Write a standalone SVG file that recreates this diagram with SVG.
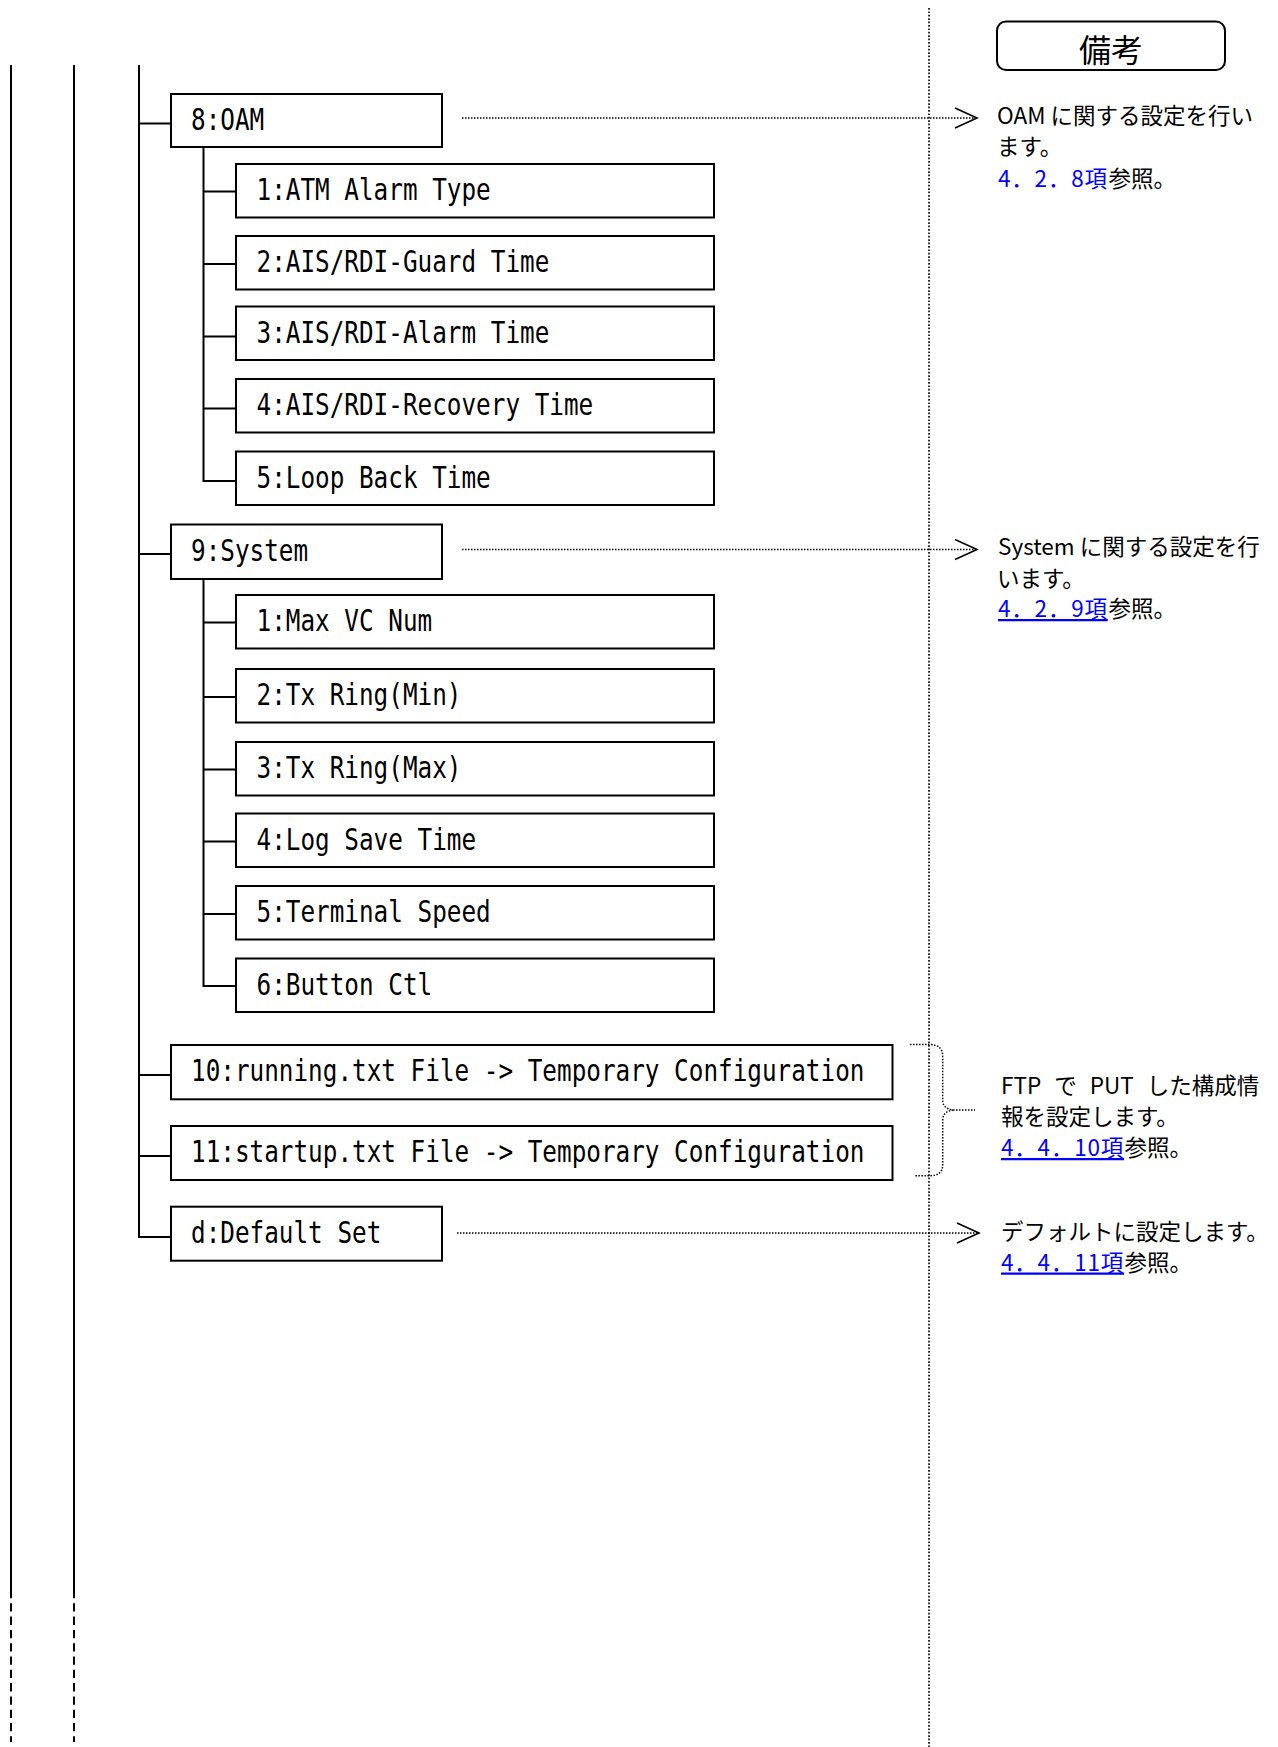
<svg xmlns="http://www.w3.org/2000/svg" width="1278" height="1747" viewBox="0 0 1278 1747">
<style>
.box{fill:#fff;stroke:#000;stroke-width:2}
.lbl{font-family:"DejaVu Sans Mono","Liberation Mono",monospace;font-size:24.33px;fill:#000}
.ln{stroke:#000;stroke-width:2;fill:none}
.dash{stroke:#000;stroke-width:2;fill:none;stroke-dasharray:8.3 5}
.dot{stroke:#000;stroke-width:1.5;fill:none;stroke-dasharray:1.5 1.5}
.vdot{stroke:#000;stroke-width:1.6;fill:none;stroke-dasharray:1.7 1.7}
.note{font-family:"Noto Sans CJK JP","Noto Sans",sans-serif;font-size:22.5px;fill:#000}
.lnk{fill:#0000ff;letter-spacing:0.8px}
.ul{fill:#0000ff;text-decoration:underline;letter-spacing:0.8px}
.hdr{font-family:"Noto Sans CJK JP",sans-serif;font-size:32px;fill:#000}
</style>
<defs>
<marker id="chev" markerUnits="userSpaceOnUse" markerWidth="26" markerHeight="24" refX="23" refY="11" orient="auto" viewBox="0 0 26 24">
<path d="M1,1 L23,11 L1,21" fill="none" stroke="#000" stroke-width="1.6" stroke-dasharray="none"/>
</marker>
</defs>
<rect width="1278" height="1747" fill="#fff"/>

<g id="connectors">
<line class="vdot" x1="929" y1="8" x2="929" y2="1747"/>
<line class="ln" x1="11" y1="65" x2="11" y2="1590"/>
<line class="dash" x1="11" y1="1590" x2="11" y2="1742"/>
<line class="ln" x1="74" y1="65" x2="74" y2="1590"/>
<line class="dash" x1="74" y1="1590" x2="74" y2="1742"/>
<line class="ln" x1="139" y1="65" x2="139" y2="1238"/>
<line class="ln" x1="139" y1="123.5" x2="171" y2="123.5"/>
<line class="ln" x1="139" y1="554" x2="171" y2="554"/>
<line class="ln" x1="139" y1="1075" x2="171" y2="1075"/>
<line class="ln" x1="139" y1="1156" x2="171" y2="1156"/>
<line class="ln" x1="139" y1="1237" x2="171" y2="1237"/>
<line class="ln" x1="203.5" y1="147" x2="203.5" y2="482"/>
<line class="ln" x1="203.5" y1="191.5" x2="236" y2="191.5"/>
<line class="ln" x1="203.5" y1="264" x2="236" y2="264"/>
<line class="ln" x1="203.5" y1="336.5" x2="236" y2="336.5"/>
<line class="ln" x1="203.5" y1="408.5" x2="236" y2="408.5"/>
<line class="ln" x1="203.5" y1="481" x2="236" y2="481"/>
<line class="ln" x1="203.5" y1="579" x2="203.5" y2="987"/>
<line class="ln" x1="203.5" y1="622.5" x2="236" y2="622.5"/>
<line class="ln" x1="203.5" y1="697" x2="236" y2="697"/>
<line class="ln" x1="203.5" y1="769.5" x2="236" y2="769.5"/>
<line class="ln" x1="203.5" y1="841.5" x2="236" y2="841.5"/>
<line class="ln" x1="203.5" y1="914" x2="236" y2="914"/>
<line class="ln" x1="203.5" y1="986" x2="236" y2="986"/>
<line class="dot" x1="462" y1="118" x2="977" y2="118" marker-end="url(#chev)"/>
<line class="dot" x1="462" y1="549.5" x2="977" y2="549.5" marker-end="url(#chev)"/>
<line class="dot" x1="457" y1="1233" x2="979" y2="1233" marker-end="url(#chev)"/>
<path class="dot" d="M910,1044.5 L930,1044.5 Q942.7,1045 942.7,1056 L942.7,1100 Q942.7,1108.5 953,1110 Q942.7,1111.5 942.7,1120 L942.7,1165 Q942.7,1175.5 930,1175.7 L915,1175.7"/>
<line class="dot" x1="953" y1="1110" x2="975" y2="1110"/>
</g>

<g id="header-remarks">
<rect x="997" y="21.5" width="228" height="48.5" rx="9" ry="9" fill="#fff" stroke="#000" stroke-width="2"/>
<text class="hdr" x="1111" y="62" text-anchor="middle">備考</text>
</g>

<g id="n8">
<rect class="box" x="171" y="94" width="271" height="53"/>
<text class="lbl" transform="translate(191,130) scale(1,1.233)">8:OAM</text>
</g>
<g id="n8-1">
<rect class="box" x="236" y="164" width="478" height="53.5"/>
<text class="lbl" transform="translate(256.5,200) scale(1,1.233)">1:ATM Alarm Type</text>
</g>
<g id="n8-2">
<rect class="box" x="236" y="236" width="478" height="53.5"/>
<text class="lbl" transform="translate(256.5,272) scale(1,1.233)">2:AIS/RDI-Guard Time</text>
</g>
<g id="n8-3">
<rect class="box" x="236" y="306.5" width="478" height="53.5"/>
<text class="lbl" transform="translate(256.5,342.5) scale(1,1.233)">3:AIS/RDI-Alarm Time</text>
</g>
<g id="n8-4">
<rect class="box" x="236" y="379" width="478" height="53.5"/>
<text class="lbl" transform="translate(256.5,415) scale(1,1.233)">4:AIS/RDI-Recovery Time</text>
</g>
<g id="n8-5">
<rect class="box" x="236" y="451.5" width="478" height="53.5"/>
<text class="lbl" transform="translate(256.5,487.5) scale(1,1.233)">5:Loop Back Time</text>
</g>

<g id="n9">
<rect class="box" x="171" y="524.5" width="271" height="54.5"/>
<text class="lbl" transform="translate(191,561) scale(1,1.233)">9:System</text>
</g>
<g id="n9-1">
<rect class="box" x="236" y="595" width="478" height="53.5"/>
<text class="lbl" transform="translate(256.5,631) scale(1,1.233)">1:Max VC Num</text>
</g>
<g id="n9-2">
<rect class="box" x="236" y="669" width="478" height="53.5"/>
<text class="lbl" transform="translate(256.5,705) scale(1,1.233)">2:Tx Ring(Min)</text>
</g>
<g id="n9-3">
<rect class="box" x="236" y="742" width="478" height="53.5"/>
<text class="lbl" transform="translate(256.5,778) scale(1,1.233)">3:Tx Ring(Max)</text>
</g>
<g id="n9-4">
<rect class="box" x="236" y="813.5" width="478" height="53.5"/>
<text class="lbl" transform="translate(256.5,849.5) scale(1,1.233)">4:Log Save Time</text>
</g>
<g id="n9-5">
<rect class="box" x="236" y="886" width="478" height="53.5"/>
<text class="lbl" transform="translate(256.5,922) scale(1,1.233)">5:Terminal Speed</text>
</g>
<g id="n9-6">
<rect class="box" x="236" y="958.5" width="478" height="53.5"/>
<text class="lbl" transform="translate(256.5,994.5) scale(1,1.233)">6:Button Ctl</text>
</g>

<g id="n10">
<rect class="box" x="171" y="1045" width="721.5" height="54.3"/>
<text class="lbl" transform="translate(191,1081) scale(1,1.233)">10:running.txt File -&gt; Temporary Configuration</text>
</g>
<g id="n11">
<rect class="box" x="171" y="1126" width="721.5" height="54"/>
<text class="lbl" transform="translate(191,1162) scale(1,1.233)">11:startup.txt File -&gt; Temporary Configuration</text>
</g>
<g id="nd">
<rect class="box" x="171" y="1206.7" width="271" height="54"/>
<text class="lbl" transform="translate(191,1242.7) scale(1,1.233)">d:Default Set</text>
</g>

<g id="note-oam">
<text class="note" x="997" y="123.5">OAM に関する設定を行い</text>
<text class="note" x="997" y="155">ます。</text>
<text class="note lnk" x="998" y="186.5">4．2．8項</text>
<text class="note" x="1108.5" y="186.5">参照。</text>
</g>
<g id="note-system">
<text class="note" x="998" y="555">System に関する設定を行</text>
<text class="note" x="997" y="586.5">います。</text>
<text class="note ul" x="998" y="617">4．2．9項</text>
<text class="note" x="1108.5" y="617">参照。</text>
</g>
<g id="note-ftp">
<text class="note" x="1001" y="1093.5" style="word-spacing:8px">FTP で PUT した構成情</text>
<text class="note" x="1001" y="1125">報を設定します。</text>
<text class="note ul" x="1001" y="1156">4．4．10項</text>
<text class="note" x="1124.5" y="1156">参照。</text>
</g>
<g id="note-default">
<text class="note" x="1001" y="1240">デフォルトに設定します。</text>
<text class="note ul" x="1001" y="1270.5">4．4．11項</text>
<text class="note" x="1124.5" y="1270.5">参照。</text>
</g>
</svg>
